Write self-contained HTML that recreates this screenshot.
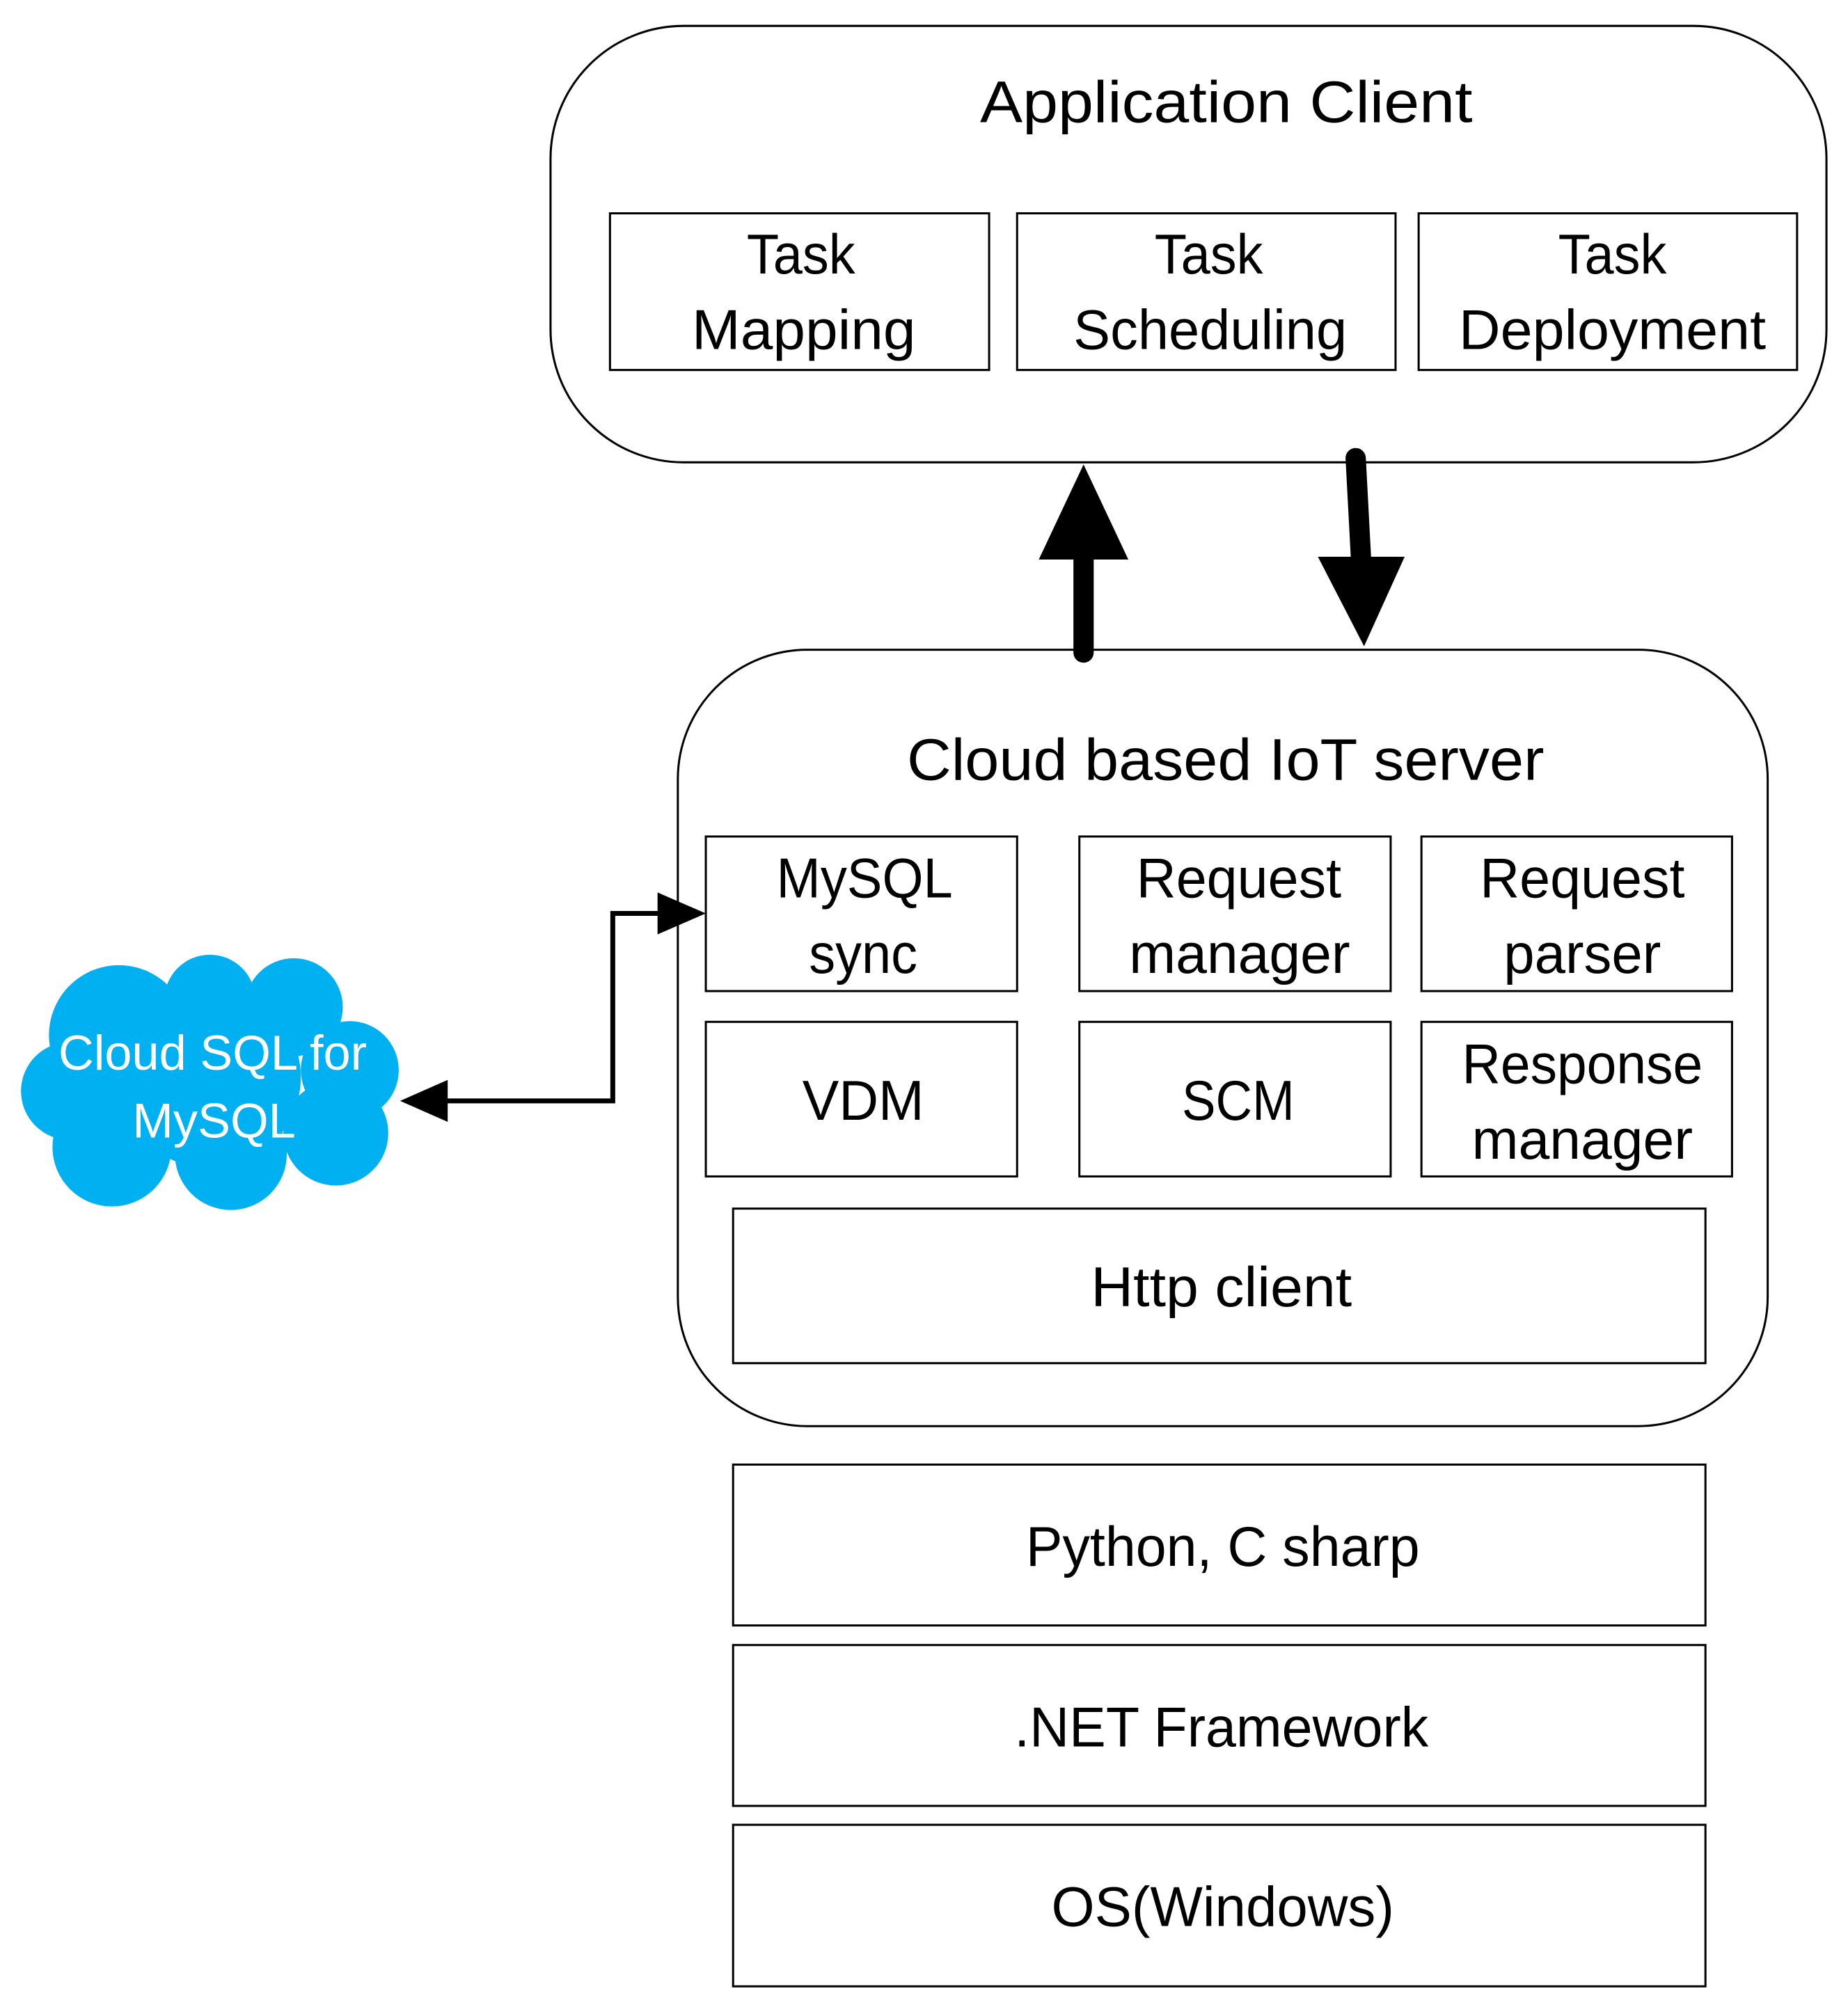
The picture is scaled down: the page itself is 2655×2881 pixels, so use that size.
<!DOCTYPE html>
<html><head><meta charset="utf-8"><style>html,body{margin:0;padding:0;background:#fff}svg{display:block}</style></head>
<body>
<svg width="2655" height="2881" viewBox="0 0 2655 2881" xmlns="http://www.w3.org/2000/svg" font-family="'Liberation Sans', sans-serif">
<g transform="scale(1.005)">
<g fill="none" stroke="#000" stroke-width="3">
<rect x="787" y="37" width="1824" height="624" rx="190" ry="190"/>
<rect x="872" y="305" width="542" height="224"/>
<rect x="1454" y="305" width="541" height="224"/>
<rect x="2028" y="305" width="541" height="224"/>
<rect x="969" y="929" width="1558" height="1110" rx="185" ry="185"/>
<rect x="1009" y="1196" width="445" height="221"/>
<rect x="1543" y="1196" width="445" height="221"/>
<rect x="2032" y="1196" width="444" height="221"/>
<rect x="1009" y="1461" width="445" height="221"/>
<rect x="1543" y="1461" width="445" height="221"/>
<rect x="2032" y="1461" width="444" height="221"/>
<rect x="1048" y="1728" width="1390" height="221"/>
<rect x="1048" y="2094" width="1390" height="230"/>
<rect x="1048" y="2352" width="1390" height="230"/>
<rect x="1048" y="2609" width="1390" height="231"/>
</g>
<line x1="1549" y1="933" x2="1549" y2="790" stroke="#000" stroke-width="29" stroke-linecap="round"/>
<polygon points="1549,664 1613,800 1485,800" fill="#000"/>
<line x1="1938" y1="655" x2="1946" y2="806" stroke="#000" stroke-width="29" stroke-linecap="round"/>
<polygon points="1950,924 2008,796 1884,796" fill="#000"/>
<polyline points="950,1306 876,1306 876,1574 630,1574" fill="none" stroke="#000" stroke-width="7"/>
<polygon points="1009,1306 940,1276 940,1336" fill="#000"/>
<polygon points="572,1574 640,1544 640,1604" fill="#000"/>
<g fill="#00b0f0">
<circle cx="170" cy="1480" r="100"/><circle cx="300" cy="1430" r="65"/><circle cx="420" cy="1440" r="70"/>
<circle cx="500" cy="1530" r="70"/><circle cx="480" cy="1620" r="75"/><circle cx="330" cy="1650" r="80"/>
<circle cx="160" cy="1640" r="85"/><circle cx="100" cy="1560" r="70"/><circle cx="300" cy="1540" r="130"/>
</g>
<g text-anchor="middle" dominant-baseline="central">
<text x="1753" y="146" font-size="84" textLength="704" lengthAdjust="spacingAndGlyphs">Application Client</text>
<text x="1145" y="364" font-size="80" textLength="155" lengthAdjust="spacingAndGlyphs">Task</text>
<text x="1149" y="472" font-size="80" textLength="320" lengthAdjust="spacingAndGlyphs">Mapping</text>
<text x="1728" y="364" font-size="80" textLength="155" lengthAdjust="spacingAndGlyphs">Task</text>
<text x="1730" y="472" font-size="80" textLength="391" lengthAdjust="spacingAndGlyphs">Scheduling</text>
<text x="2305" y="364" font-size="80" textLength="155" lengthAdjust="spacingAndGlyphs">Task</text>
<text x="2305" y="472" font-size="80" textLength="439" lengthAdjust="spacingAndGlyphs">Deployment</text>
<text x="1752" y="1086" font-size="84" textLength="911" lengthAdjust="spacingAndGlyphs">Cloud based IoT server</text>
<text x="1236" y="1256" font-size="80" textLength="252" lengthAdjust="spacingAndGlyphs">MySQL</text>
<text x="1234" y="1364" font-size="80" textLength="155" lengthAdjust="spacingAndGlyphs">sync</text>
<text x="1771" y="1256" font-size="80" textLength="293" lengthAdjust="spacingAndGlyphs">Request</text>
<text x="1772" y="1364" font-size="80" textLength="316" lengthAdjust="spacingAndGlyphs">manager</text>
<text x="2262" y="1256" font-size="80" textLength="293" lengthAdjust="spacingAndGlyphs">Request</text>
<text x="2262" y="1364" font-size="80" textLength="225" lengthAdjust="spacingAndGlyphs">parser</text>
<text x="1234" y="1574" font-size="80" textLength="174" lengthAdjust="spacingAndGlyphs">VDM</text>
<text x="1770" y="1574" font-size="80" textLength="161" lengthAdjust="spacingAndGlyphs">SCM</text>
<text x="2262" y="1522" font-size="80" textLength="344" lengthAdjust="spacingAndGlyphs">Response</text>
<text x="2262" y="1630" font-size="80" textLength="316" lengthAdjust="spacingAndGlyphs">manager</text>
<text x="1746" y="1841" font-size="80" textLength="373" lengthAdjust="spacingAndGlyphs">Http client</text>
<text x="1748" y="2212" font-size="80" textLength="563" lengthAdjust="spacingAndGlyphs">Python, C sharp</text>
<text x="1746" y="2470" font-size="80" textLength="592" lengthAdjust="spacingAndGlyphs">.NET Framework</text>
<text x="1748" y="2727" font-size="80" textLength="490" lengthAdjust="spacingAndGlyphs">OS(Windows)</text>
<text x="304" y="1505" font-size="70" fill="#fff">Cloud SQL for</text>
<text x="306" y="1602" font-size="70" fill="#fff">MySQL</text>
</g>
</g>
</svg>
</body></html>
